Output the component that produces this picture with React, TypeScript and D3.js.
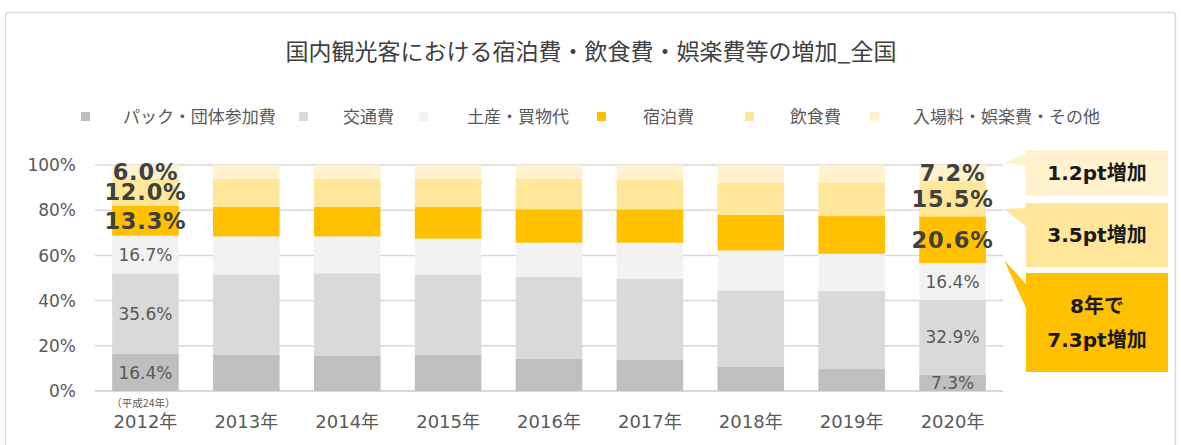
import React from 'react'
import * as d3 from 'd3'

const years = ['2012年', '2013年', '2014年', '2015年', '2016年', '2017年', '2018年', '2019年', '2020年']
const seriesNames = ['パック・団体参加費', '交通費', '土産・買物代', '宿泊費', '飲食費', '入場料・娯楽費・その他']
const pack = [16.4, 16.1, 15.5, 16.1, 14.3, 13.7, 10.9, 9.7, 7.3]
const transport = [35.6, 35.5, 36.6, 35.5, 36.1, 36.1, 33.7, 34.6, 32.9]
const souvenir = [16.7, 16.8, 16.3, 15.8, 15.2, 15.8, 17.6, 16.4, 16.4]
const lodging = [13.3, 13.1, 13.1, 14.1, 14.8, 14.8, 15.8, 16.7, 20.6]
const food = [12.0, 12.4, 12.4, 12.4, 13.5, 13.0, 14.2, 14.8, 15.5]
const entertainment = [6.0, 6.1, 6.1, 6.1, 6.1, 6.6, 7.8, 7.8, 7.2]
const colors = ['#BFBFBF', '#D9D9D9', '#F2F2F2', '#FFC000', '#FFE699', '#FFF2CC']
const yTicks = [0, 0.2, 0.4, 0.6, 0.8, 1]
const labelledYears = ['2012年', '2020年']
const callouts = [
  { lines: ['1.2pt増加'], color: '#FFF2CC' },
  { lines: ['3.5pt増加'], color: '#FFE699' },
  { lines: ['8年で', '7.3pt増加'], color: '#FFC000' },
]

const W = 1181
const H = 445
const margin = { left: 95, right: 178, top: 165, bottom: 54 }
const numFont = "'DejaVu Sans', 'Noto Sans CJK JP', sans-serif"
const jpFont = "'Noto Sans CJK JP', sans-serif"

// callout boxes (layout only)
const boxX0 = 1026
const boxX1 = 1168
const boxes = [
  { y0: 150, y1: 196, tipY: 163, b0: 154, b1: 166 },
  { y0: 203, y1: 267, tipY: 209, b0: 208, b1: 226 },
  { y0: 273, y1: 372, tipY: 260, b0: 284, b1: 308 },
]
const legendMarkX = [81, 299, 419, 597, 745, 870]
const legendTextX = [123, 343, 467, 643, 790, 913]

export default function App() {
  const rows = years.map((y, i) => ({
    year: y,
    s0: pack[i], s1: transport[i], s2: souvenir[i],
    s3: lodging[i], s4: food[i], s5: entertainment[i],
  }))
  const keys = ['s0', 's1', 's2', 's3', 's4', 's5']
  const stack = d3.stack<any>().keys(keys).offset(d3.stackOffsetExpand)
  const layers = stack(rows)

  const x = d3.scaleBand().domain(years).range([margin.left, W - margin.right]).paddingInner(0.34).paddingOuter(0.17)
  const y = d3.scaleLinear().domain([0, 1]).range([H - margin.bottom, margin.top])
  const fmt = (v: number) => v.toFixed(1) + '%'
  const plotRight = W - margin.right

  return (
    <svg width={W} height={H} style={{ position: 'absolute', left: 0, top: 0, background: '#fff' }}>
      <rect x={5.5} y={12.5} width={1170} height={460} rx={3} fill="#fff" stroke="#D9D9D9" strokeWidth={1.5} />

      <text x={591} y={60} textAnchor="middle" fontFamily={jpFont} fontSize={23} fill="#404040">
        国内観光客における宿泊費・飲食費・娯楽費等の増加_全国
      </text>

      {seriesNames.map((n, i) => (
        <g key={n}>
          <rect x={legendMarkX[i]} y={112} width={9} height={9} fill={colors[i]} />
          <text x={legendTextX[i]} y={123} fontFamily={jpFont} fontSize={17} fill="#595959">{n}</text>
        </g>
      ))}

      {yTicks.map(t => (
        <g key={t}>
          <line x1={margin.left} x2={plotRight} y1={y(t)} y2={y(t)} stroke="#D9D9D9" strokeWidth={t === 0 ? 2 : 1.5} />
          <text x={76} y={y(t)} dy="0.36em" textAnchor="end" fontFamily={numFont} fontSize={17} fill="#595959">
            {Math.round(t * 100)}%
          </text>
        </g>
      ))}

      {layers.map((layer, li) => (
        <g key={layer.key} fill={colors[li]}>
          {layer.map(d => (
            <rect key={d.data.year} x={x(d.data.year)} y={y(d[1])} width={x.bandwidth()} height={y(d[0]) - y(d[1])} />
          ))}
        </g>
      ))}

      {layers.map((layer, li) =>
        layer.filter(d => labelledYears.includes(d.data.year)).map(d => {
          const bold = li >= 3
          const cx = (x(d.data.year) as number) + x.bandwidth() / 2
          const cy = (y(d[0]) + y(d[1])) / 2
          return (
            <text key={layer.key + d.data.year} x={cx} y={cy} dy="0.36em" textAnchor="middle"
              fontFamily={numFont} fontSize={bold ? 22.5 : 17} fontWeight={bold ? 'bold' : 'normal'}
              letterSpacing={bold ? 0.8 : 0}
              fill={bold ? '#404040' : '#595959'}>
              {fmt((d.data as any)[layer.key])}
            </text>
          )
        })
      )}

      {years.map(yr => (
        <text key={yr} x={(x(yr) as number) + x.bandwidth() / 2} y={428} textAnchor="middle"
          fontFamily={numFont} fontSize={18} fill="#595959">{yr}</text>
      ))}
      <text x={(x(years[0]) as number) + x.bandwidth() / 2 - 2} y={407} textAnchor="middle"
        fontFamily={jpFont} fontSize={10.5} fill="#595959">（平成24年）</text>

      {callouts.map((c, i) => {
        const b = boxes[i]
        const cy = (b.y0 + b.y1) / 2
        const path = `M${boxX0},${b.y0}H${boxX1}V${b.y1}H${boxX0}V${b.b1}L${plotRight + 1},${b.tipY}L${boxX0},${b.b0}Z`
        return (
          <g key={i}>
            <path d={path} fill={c.color} />
            {c.lines.map((l, j) => (
              <text key={j} x={(boxX0 + boxX1) / 2} y={cy + (j - (c.lines.length - 1) / 2) * 34} dy="0.36em"
                textAnchor="middle" fontFamily={numFont} fontWeight="bold" fontSize={20} fill="#1a1a1a">{l}</text>
            ))}
          </g>
        )
      })}
    </svg>
  )
}
